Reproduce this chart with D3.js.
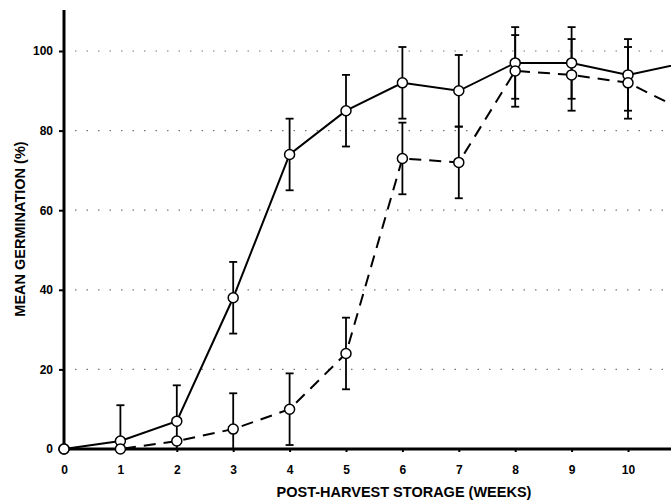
<!DOCTYPE html>
<html><head><meta charset="utf-8">
<script src="https://cdn.jsdelivr.net/npm/d3@7"></script>
<style>body{margin:0;background:#fff}svg{display:block}text{font-family:"Liberation Sans",Arial,sans-serif;font-weight:bold}</style>
</head><body><svg id="c" width="671" height="501"></svg>
<script>
const weeks = [0,1,2,3,4,5,6,7,8,9,10,11];
const solid = [0,2,7,38,74,85,92,90,97,97,94,97];
const dashed = [0,0,2,5,10,24,73,72,95,94,92,85];
const errSolid = [0,9,9,9,9,9,9,9,9,9,9,9];
const errDashed = [0,0,0,9,9,9,9,9,9,9,9,9];
const xTicks = [0,1,2,3,4,5,6,7,8,9,10];
const yTicks = [0,20,40,60,80,100];
const grid = [20,40,60,80,100];

const svg = d3.select("#c");
const x = d3.scaleLinear().domain([0,10]).range([64,628]);
const y = d3.scaleLinear().domain([0,100]).range([449,51]);

// gridlines
svg.append("g").selectAll("line").data(grid).join("line")
  .attr("x1",75).attr("x2",671).attr("y1",d=>y(d)).attr("y2",d=>y(d))
  .attr("stroke","#777").attr("stroke-width",1.2).attr("stroke-dasharray","1.5,10");

// axes
const ya = svg.append("g").attr("transform","translate(64,0)")
  .call(d3.axisLeft(y).tickValues(yTicks).tickSize(5).tickPadding(6));
ya.select(".domain").remove();
ya.selectAll("text").attr("font-size",12).attr("fill","#000");
ya.selectAll("line").attr("stroke-width",2);
svg.append("line").attr("x1",64).attr("x2",64).attr("y1",10).attr("y2",451)
  .attr("stroke","#000").attr("stroke-width",3);

const xa = svg.append("g").attr("transform","translate(0,449)")
  .call(d3.axisBottom(x).tickValues(xTicks).tickSize(3).tickPadding(13));
xa.select(".domain").remove();
xa.selectAll("text").attr("font-size",12).attr("fill","#000");
xa.selectAll("line").attr("stroke-width",2);
svg.append("line").attr("x1",62).attr("x2",671).attr("y1",449).attr("y2",449)
  .attr("stroke","#000").attr("stroke-width",3);

// titles
svg.append("text").attr("x",404).attr("y",497).attr("text-anchor","middle")
  .attr("font-size",14.5).text("POST-HARVEST STORAGE (WEEKS)");
svg.append("text").attr("transform","translate(25,229) rotate(-90)").attr("text-anchor","middle")
  .attr("font-size",14.5).text("MEAN GERMINATION (%)");

const plot = svg.append("g");
function series(vals, errs, dash){
  const pts = weeks.map((w,i)=>({w,v:vals[i],e:errs[i]}));
  const eb = plot.append("g");
  pts.filter(p=>p.e>0).forEach(p=>{
    const g = eb.append("g").attr("stroke","#000").attr("stroke-width",1.8);
    g.append("line").attr("x1",x(p.w)).attr("x2",x(p.w)).attr("y1",y(p.v+p.e)).attr("y2",y(Math.max(p.v-p.e,0)));
    g.append("line").attr("x1",x(p.w)-4).attr("x2",x(p.w)+4).attr("y1",y(p.v+p.e)).attr("y2",y(p.v+p.e));
    if(p.v-p.e>0) g.append("line").attr("x1",x(p.w)-4).attr("x2",x(p.w)+4).attr("y1",y(p.v-p.e)).attr("y2",y(p.v-p.e));
  });
  plot.append("path").datum(pts)
    .attr("d",d3.line().x(p=>x(p.w)).y(p=>y(p.v)))
    .attr("fill","none").attr("stroke","#000").attr("stroke-width",2)
    .attr("stroke-dasharray",dash?"12,8":null);
  return pts;
}
const p1 = series(solid, errSolid, false);
const p2 = series(dashed, errDashed, true);
[...p1,...p2].filter(p=>p.w<=10).forEach(p=>{
  plot.append("circle").attr("cx",x(p.w)).attr("cy",y(p.v)).attr("r",5)
    .attr("fill","#fff").attr("stroke","#000").attr("stroke-width",1.5);
});
</script></body></html>
